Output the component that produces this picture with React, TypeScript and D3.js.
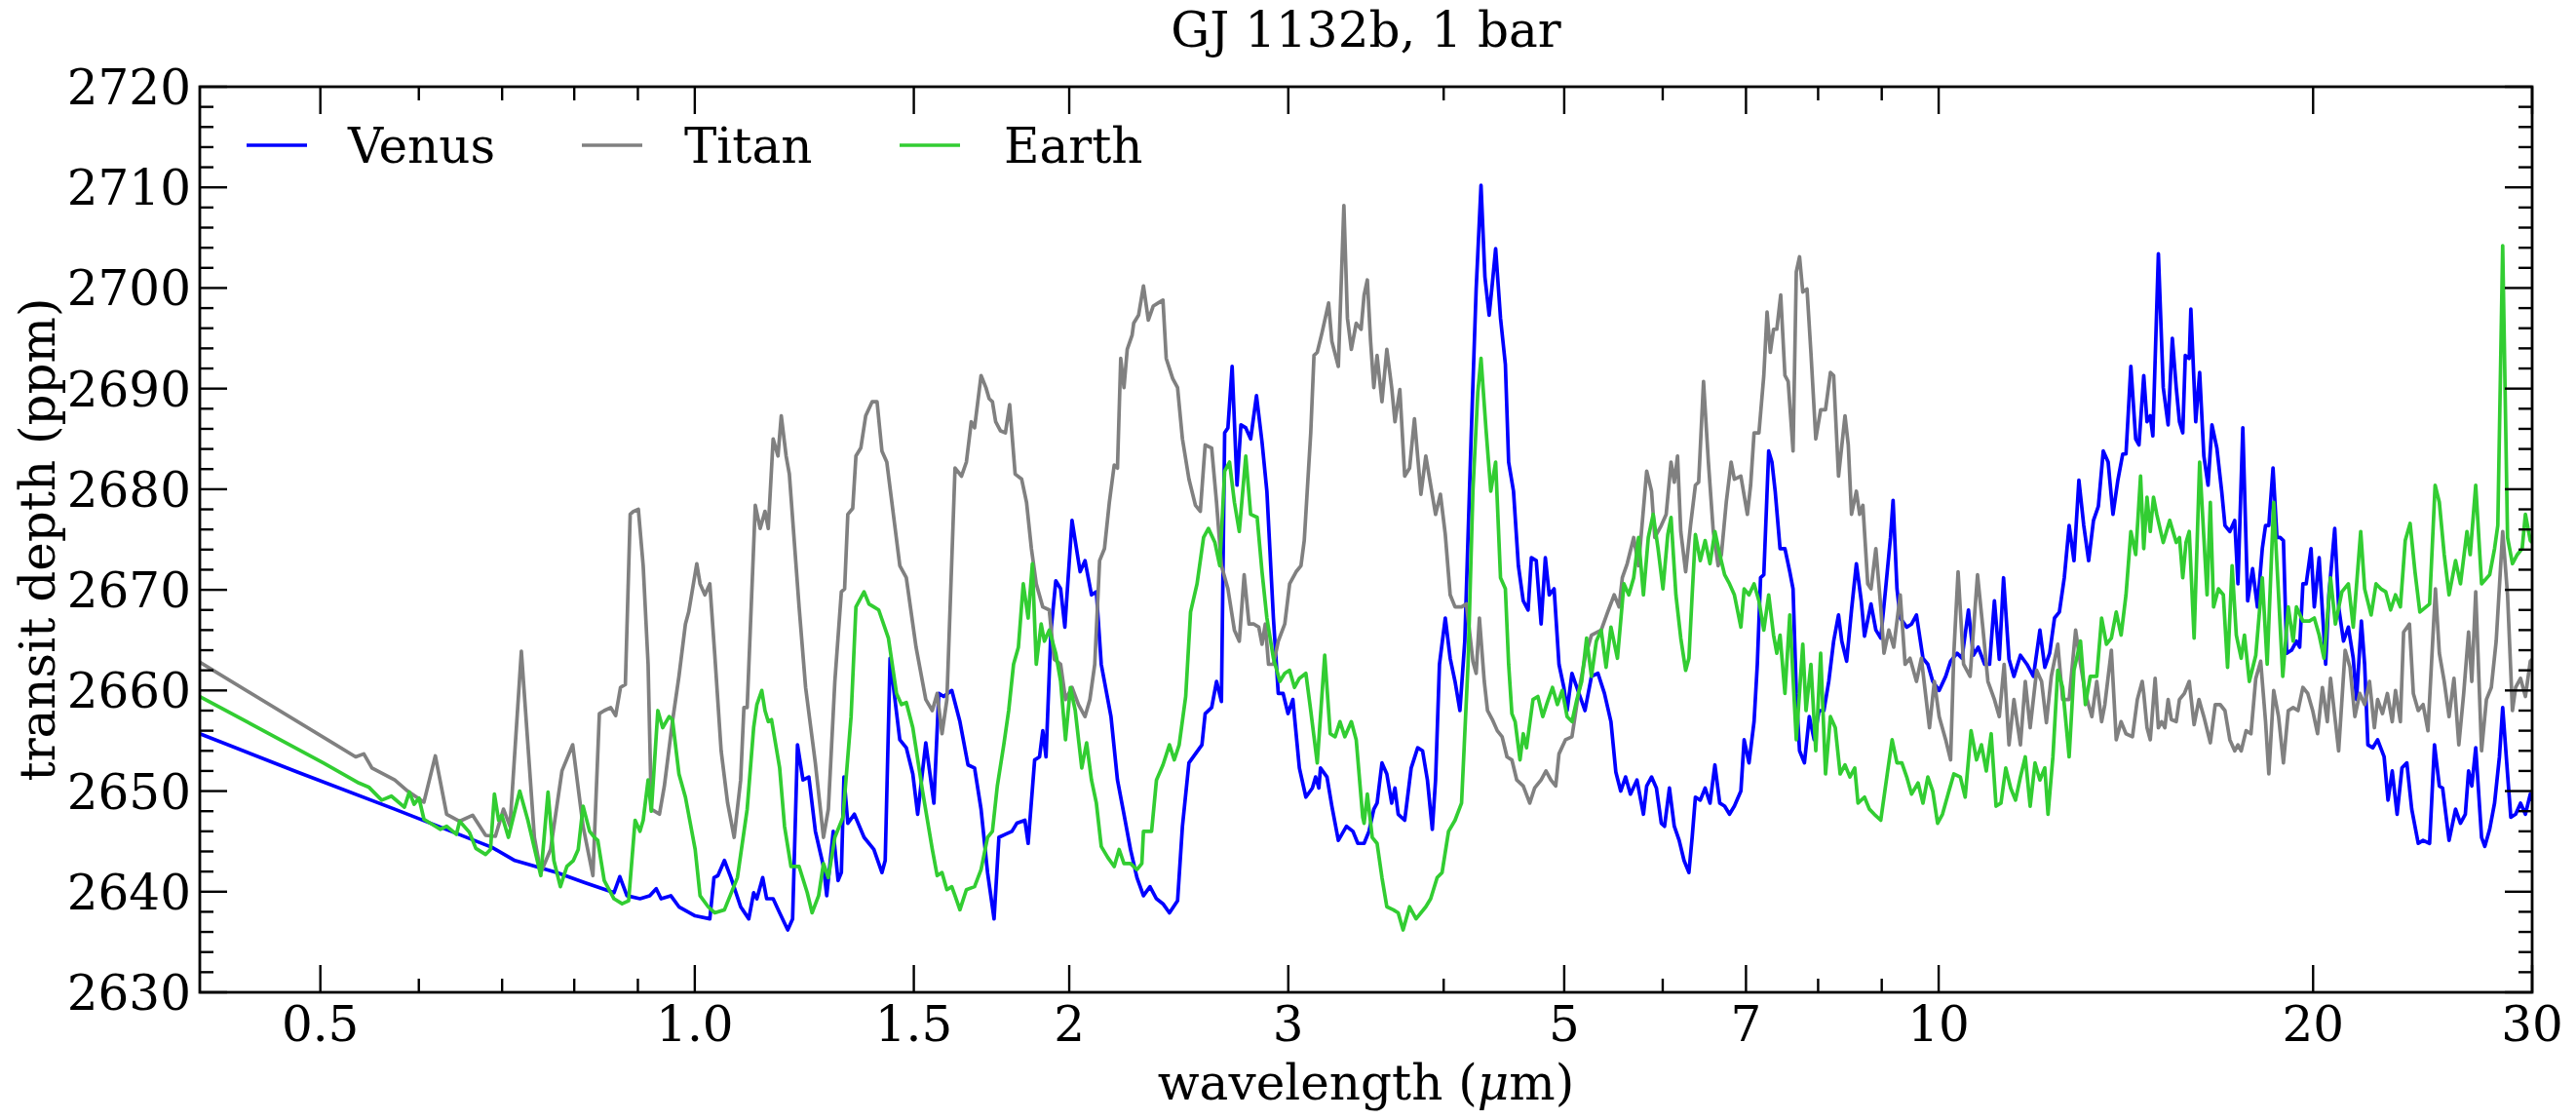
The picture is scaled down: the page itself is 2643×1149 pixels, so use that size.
import React from 'react';
import * as d3 from 'd3';

// ---------- data (wavelength in µm, transit depth in ppm) ----------
const titleText = 'GJ 1132b, 1 bar';
const seriesNames = ['Venus', 'Titan', 'Earth'];
const seriesColors = ['#0000ff', '#808080', '#32cd32'];

const xMajorTicks = [0.5, 1.0, 1.5, 2, 3, 5, 7, 10, 20, 30];
const xTickLabels = ['0.5', '1.0', '1.5', '2', '3', '5', '7', '10', '20', '30'];
const xMinorTicks = [0.6, 0.7, 0.8, 0.9, 4, 6, 8, 9];
const yMajorTicks = [2630, 2640, 2650, 2660, 2670, 2680, 2690, 2700, 2710, 2720];

const venusSpectrum: [number, number][] = [
  [0.4,2655.7],[0.4791,2651.9],[0.5738,2648.2],[0.6872,2644.4],[0.7167,2643.1],[0.775,2641.9],
  [0.8157,2640.9],[0.8611,2639.9],[0.8704,2641.5],[0.882,2639.6],[0.9035,2639.3],[0.9199,2639.6],[0.9311,2640.3],[0.9395,2639.3],[0.9566,2639.6],[0.9711,2638.5],[1.0007,2637.6],[1.0282,2637.3],[1.0362,2641.4],[1.0437,2641.6],[1.0564,2643.1],[1.0692,2641.4],[1.0886,2638.5],[1.1051,2637.3],[1.1151,2639.9],[1.1218,2639.3],[1.134,2641.4],[1.1423,2639.3],[1.1561,2639.3],[1.1701,2637.9],[1.1878,2636.2],[1.1985,2637.3],[1.2094,2654.6],[1.2218,2651.1],[1.2351,2651.4],[1.2501,2646.0],[1.269,2642.5],[1.2767,2639.6],[1.2921,2646.0],[1.3038,2641.1],[1.3117,2641.9],[1.318,2651.4],[1.3275,2646.8],[1.3436,2647.7],[1.368,2645.4],[1.393,2644.2],[1.414,2641.9],[1.4226,2643.1],[1.4355,2663.2],[1.4485,2659.1],[1.4616,2655.1],[1.4793,2654.3],[1.4972,2651.7],[1.5107,2647.7],[1.5336,2654.8],[1.5568,2648.8],[1.5709,2659.7],[1.5852,2659.4],[1.6092,2660.0],[1.6336,2656.9],[1.6583,2652.6],
  [1.6785,2652.3],[1.6988,2648.2],[1.7194,2641.9],[1.7402,2637.3],[1.7559,2645.4],[1.7772,2645.7],[1.7987,2646.0],[1.815,2646.8],[1.8424,2647.1],[1.8535,2644.8],[1.876,2653.1],[1.893,2653.4],[1.9044,2656.0],[1.9159,2653.4],[1.9332,2665.8],[1.9508,2670.9],[1.9684,2670.1],[1.9839,2666.3],[2.0103,2676.9],[2.0407,2671.8],[2.0593,2672.9],[2.0841,2669.5],[2.103,2669.8],[2.1221,2662.6],[2.1607,2657.4],[2.1868,2651.1],[2.2133,2647.7],[2.2401,2644.2],[2.2672,2641.4],[2.2946,2639.6],[2.3224,2640.5],[2.3505,2639.3],[2.3789,2638.8],[2.4077,2637.9],[2.4442,2639.1],[2.4663,2646.5],[2.4961,2652.8],[2.5263,2653.7],[2.5569,2654.6],[2.5723,2657.7],[2.6034,2658.3],[2.627,2660.9],[2.6508,2658.9],[2.6668,2685.6],[2.6829,2686.1],[2.7039,2692.2],[2.7284,2680.4],[2.7482,2686.4],[2.7731,2686.1],[2.7982,2685.0],[2.8286,2689.3],[2.8577,2684.7],[2.8836,2679.8],[2.9186,2667.2],[2.9449,2659.7],[2.9716,2659.7],[2.9985,2657.7],[3.0257,2659.1],[3.0623,2652.3],[3.0994,2649.4],[3.1369,2650.3],[3.1558,2651.4],[3.1748,2650.3],[3.1843,2652.3],[3.2229,2651.4],[3.2521,2648.5],[3.2914,2645.1],[3.3413,2646.5],[3.3817,2646.0],[3.4124,2644.8],
  [3.4521,2644.8],[3.4834,2646.0],[3.5149,2648.2],[3.5361,2648.8],[3.5682,2652.8],[3.6005,2651.7],[3.6331,2648.8],[3.6551,2650.3],[3.6771,2647.7],[3.7216,2647.1],[3.7666,2652.3],[3.8121,2654.3],[3.8467,2654.0],[3.8815,2651.1],[3.9167,2646.2],[3.9404,2651.1],[3.9689,2662.6],[4.012,2667.2],[4.0484,2663.2],[4.085,2660.9],[4.1221,2658.0],[4.1594,2664.9],[4.2097,2685.6],[4.2479,2699.9],[4.2863,2710.2],[4.3174,2701.1],[4.3513,2697.3],[4.3775,2700.5],[4.4039,2703.9],[4.4438,2697.0],[4.484,2692.4],[4.5111,2682.7],[4.552,2679.8],[4.5932,2672.4],[4.6348,2668.9],[4.6768,2668.0],[4.705,2673.2],[4.7476,2672.9],[4.7907,2666.6],[4.8283,2673.2],[4.8633,2669.5],[4.9073,2670.1],[4.9518,2662.6],[4.9966,2660.3],[5.0268,2658.0],[5.0723,2661.7],[5.1183,2660.3],[5.1958,2658.0],[5.2586,2661.4],[5.3223,2661.7],[5.3866,2659.7],[5.4518,2656.9],[5.5012,2651.9],[5.5511,2650.0],[5.6013,2651.4],[5.6521,2649.7],[5.7205,2651.1],[5.7897,2647.7],[5.8246,2650.5],[5.8773,2651.4],[5.9306,2650.3],[5.9843,2646.8],[6.0204,2646.5],[6.075,2650.3],[6.13,2646.5],[6.1856,2645.1],[6.2416,2643.1],[6.2982,2641.9],[6.3361,2645.4],[6.3744,2649.4],[6.4321,2649.1],[6.4904,2650.3],[6.5491,2648.8],[6.6085,2652.6],[6.6684,2648.8],[6.7287,2648.5],[6.7897,2647.7],[6.8513,2648.5],[6.9342,2650.0],[6.976,2655.1],[7.0392,2652.8],
  [7.1056,2656.9],[7.1484,2662.6],[7.1916,2671.2],[7.2349,2671.5],[7.3005,2683.8],[7.3445,2682.7],[7.3888,2679.8],[7.4557,2674.1],[7.5234,2674.1],[7.5914,2671.8],[7.6373,2670.1],[7.6833,2659.7],[7.7297,2654.0],[7.7997,2652.8],[7.8703,2657.4],[7.9416,2655.1],[8.0136,2658.0],[8.0862,2658.0],[8.1594,2660.9],[8.2334,2664.9],[8.308,2667.5],[8.3581,2664.9],[8.4338,2662.9],[8.5102,2668.0],[8.5873,2672.6],[8.6651,2668.9],[8.7173,2665.4],[8.8228,2668.6],[8.9027,2666.0],[8.9835,2665.2],[9.0647,2670.1],[9.1469,2675.2],[9.191,2678.9],[9.2575,2670.1],[9.3134,2667.2],[9.4261,2666.3],[9.5114,2666.6],[9.5976,2667.5],[9.7138,2663.2],[9.8018,2662.6],[9.8906,2660.9],[10.01,2660.0],[10.131,2661.4],[10.223,2662.9],[10.347,2663.7],[10.441,2663.2],[10.567,2668.0],[10.663,2663.5],[10.759,2664.3],[10.889,2662.6],[10.988,2662.6],[11.087,2668.9],[11.188,2663.1],[11.276,2671.2],[11.391,2663.1],[11.495,2661.4],[11.634,2663.5],[11.775,2662.6],[11.917,2661.4],[12.061,2666.0],[12.171,2662.3],[12.281,2663.7],[12.392,2667.2],[12.504,2667.8],[12.618,2671.2],[12.732,2676.4],[12.847,2672.9],[12.964,2680.9],[13.081,2676.4],[13.2,2672.9],[13.319,2676.9],[13.44,2678.3],[13.562,2683.8],[13.685,2682.7],[13.808,2677.5],[13.934,2680.9],[14.06,2683.5],[14.145,2683.5],[14.273,2692.2],[14.402,2685.0],[14.489,2684.4],
  [14.618,2691.3],[14.706,2686.7],[14.795,2687.3],[14.866,2685.3],[15.019,2703.4],[15.155,2690.1],[15.292,2686.4],[15.412,2695.0],[15.524,2690.1],[15.617,2686.7],[15.712,2685.6],[15.787,2693.3],[15.902,2693.0],[15.95,2697.9],[16.094,2686.7],[16.211,2691.6],[16.338,2683.3],[16.466,2680.4],[16.585,2686.4],[16.736,2684.1],[16.887,2679.8],[16.989,2676.4],[17.143,2675.8],[17.298,2676.9],[17.403,2670.6],[17.56,2686.1],[17.719,2668.9],[17.88,2672.1],[18.042,2668.3],[18.205,2674.1],[18.315,2676.4],[18.426,2676.4],[18.57,2682.1],[18.705,2675.2],[18.817,2675.2],[18.931,2674.9],[19.045,2663.7],[19.218,2664.0],[19.392,2664.9],[19.509,2664.3],[19.626,2670.6],[19.745,2670.6],[19.923,2674.1],[20.044,2668.3],[20.225,2673.2],[20.47,2662.6],[20.593,2669.5],[20.817,2676.1],[20.968,2668.3],[21.158,2664.9],[21.349,2666.3],[21.543,2663.2],[21.673,2659.1],[21.87,2666.9],[22.002,2662.6],[22.135,2654.6],[22.335,2654.3],[22.537,2655.1],[22.81,2653.4],[22.975,2649.1],[23.155,2652.0],[23.365,2647.7],[23.577,2652.3],[23.79,2652.8],[24.006,2648.2],[24.297,2644.8],[24.516,2645.1],[24.813,2644.8],[25.038,2654.6],[25.265,2650.5],[25.418,2650.3],[25.724,2645.1],[26.035,2648.2],[26.272,2646.8],[26.51,2647.7],[26.67,2652.0],[26.83,2650.5],[27.025,2654.3],[27.319,2645.4],[27.484,2644.5],[27.732,2646.2],[27.984,2648.8],[28.237,2653.4],[28.408,2658.3],[28.665,2651.7],[28.838,2647.4],[29.099,2647.7],[29.363,2648.8],[29.629,2647.7],[29.898,2649.7],[30.077,2648.8],
];

const titanSpectrum: [number, number][] = [
  [0.4,2662.8],[0.5338,2653.4],[0.5419,2653.7],[0.5501,2652.3],[0.5738,2651.1],[0.5877,2650.0],[0.6057,2648.9],[0.6186,2653.5],[0.6317,2647.7],[0.6471,2647.0],[0.6628,2647.6],[0.679,2645.6],[0.6913,2645.5],[0.7018,2648.2],[0.7103,2646.5],[0.7254,2663.9],[0.7431,2645.4],[0.752,2641.9],[0.7657,2644.2],[0.782,2652.0],[0.7977,2654.6],[0.8132,2646.5],
  [0.8281,2641.6],[0.8381,2657.7],[0.8457,2658.0],[0.8559,2658.3],[0.8637,2657.5],[0.8715,2660.3],[0.8794,2660.6],[0.8873,2677.5],[0.8927,2677.8],[0.9008,2678.0],[0.9089,2672.4],[0.9172,2662.6],[0.9227,2648.2],[0.9367,2647.7],[0.9452,2650.5],[0.9595,2656.9],[0.9711,2661.4],[0.9828,2666.6],[0.9888,2667.8],[1.0037,2672.6],[1.0098,2670.6],[1.0189,2669.5],[1.0282,2670.6],[1.0375,2663.7],[1.05,2654.0],[1.0627,2648.8],[1.0756,2645.4],[1.0886,2651.1],[1.0952,2658.3],[1.1018,2658.3],[1.1185,2678.4],[1.1286,2676.1],[1.1388,2677.8],[1.1457,2676.1],[1.1561,2685.0],[1.1665,2683.3],[1.1736,2687.3],[1.1842,2683.3],[1.1913,2681.5],[1.213,2668.3],[1.2277,2660.3],[1.25,2652.8],[1.269,2645.4],[1.2805,2648.2],[1.296,2660.9],[1.3117,2669.8],[1.3196,2670.1],[1.3275,2677.5],[1.3396,2678.1],[1.3476,2683.3],[1.3598,2684.1],[1.3722,2687.3],[1.3888,2688.7],[1.4013,2688.7],[1.414,2683.8],[1.4268,2682.7],[1.4616,2672.4],[1.4793,2671.2],[1.5062,2664.3],[1.5336,2659.1],[1.5522,2658.0],[1.5662,2659.7],[1.5804,2655.7],[1.5947,2659.1],[1.6189,2682.1],[1.6385,2681.3],[1.6533,2682.7],[1.6683,2686.7],
  [1.6785,2686.1],[1.6988,2691.3],[1.7142,2690.1],[1.7245,2689.0],[1.7349,2688.7],[1.7454,2686.7],[1.7612,2685.8],[1.7772,2685.6],[1.7911,2688.4],[1.8095,2681.5],[1.8314,2681.0],[1.848,2678.7],[1.8647,2674.1],[1.8816,2670.6],[1.9044,2668.3],[1.9274,2668.0],[1.9449,2663.1],[1.9684,2662.6],[1.9863,2659.1],[2.0103,2660.3],[2.0346,2658.6],[2.0592,2657.4],[2.0779,2659.1],[2.0967,2662.6],[2.1157,2672.9],[2.1349,2674.1],[2.1542,2678.7],[2.1737,2682.4],[2.1868,2682.1],[2.2,2693.0],[2.2133,2690.1],[2.2267,2693.9],[2.2468,2695.3],[2.2536,2696.5],[2.274,2697.3],[2.2946,2700.2],[2.3154,2696.8],[2.3364,2698.2],[2.3575,2698.5],[2.3789,2698.8],[2.3933,2693.0],[2.4222,2691.0],[2.4441,2690.1],[2.4663,2685.0],[2.4961,2681.0],[2.5263,2678.4],[2.5492,2677.8],[2.5723,2684.4],[2.6034,2684.1],[2.627,2678.7],[2.6508,2672.4],[2.6829,2670.1],[2.7153,2666.0],[2.7399,2664.9],[2.7648,2671.5],[2.7898,2666.6],[2.8151,2666.6],[2.8406,2666.3],[2.8577,2664.6],[2.8749,2666.6],[2.8923,2662.6],[2.9186,2662.6],[2.9449,2664.9],[2.9806,2666.6],[3.0076,2670.6],[3.044,2671.8],[3.0715,2672.4],[3.0901,2674.9],[3.1274,2685.6],[3.1463,2693.3],[3.1653,2693.6],[3.194,2695.6],[3.2326,2698.5],[3.2521,2694.7],[3.2914,2692.2],[3.3253,2708.2],[3.3473,2697.0],[3.3716,2693.9],[3.4021,2696.5],[3.433,2695.9],
  [3.4521,2699.3],[3.4729,2700.8],[3.4939,2694.7],[3.5149,2690.1],[3.5361,2693.3],[3.5682,2688.7],[3.6005,2693.9],[3.6331,2690.1],[3.6551,2686.7],[3.6882,2689.9],[3.7216,2681.3],[3.7553,2682.1],[3.7893,2687.0],[3.8351,2679.5],[3.8699,2683.3],[3.9049,2680.4],[3.9404,2677.5],[3.976,2679.5],[4.012,2675.5],[4.0484,2669.5],[4.085,2668.3],[4.1345,2668.3],[4.1719,2668.6],[4.2224,2662.9],[4.2479,2661.7],[4.2735,2667.2],[4.3122,2660.9],[4.3382,2658.0],[4.3775,2657.1],[4.4172,2656.0],[4.4571,2655.4],[4.4976,2653.4],[4.5383,2653.1],[4.5795,2651.1],[4.6348,2650.5],[4.6909,2648.8],[4.7334,2650.3],[4.7907,2651.1],[4.8341,2652.0],[4.8779,2651.1],[4.9221,2650.5],[4.9518,2653.7],[5.0117,2655.1],[5.0723,2655.4],[5.1337,2659.7],[5.1958,2663.2],[5.2586,2665.5],[5.3544,2666.0],[5.4191,2667.8],[5.4847,2669.5],[5.5343,2668.3],[5.5678,2671.2],[5.6182,2672.6],[5.6862,2675.2],[5.7377,2672.4],[5.8246,2681.8],[5.8773,2679.8],[5.9128,2675.2],[5.9843,2676.4],[6.0385,2677.5],[6.0933,2682.7],[6.13,2680.7],[6.167,2683.3],[6.2041,2675.8],[6.2604,2671.8],[6.3171,2676.4],[6.3744,2680.4],[6.4128,2680.7],[6.4709,2690.7],[6.5295,2682.7],[6.5887,2675.8],[6.6484,2672.4],[6.6884,2673.5],[6.749,2678.7],[6.8102,2682.7],[6.8513,2681.0],[6.9342,2681.3],[7.0181,2677.5],[7.0605,2680.4],
  [7.1056,2685.6],[7.17,2685.6],[7.2349,2691.3],[7.2786,2697.6],[7.3225,2693.6],[7.3666,2695.9],[7.4111,2695.9],[7.4647,2699.3],[7.5234,2691.3],[7.5687,2690.7],[7.6373,2683.8],[7.6833,2701.6],[7.7297,2703.1],[7.7763,2699.6],[7.8373,2699.9],[7.894,2693.6],[7.9656,2685.0],[8.0376,2687.9],[8.1105,2687.9],[8.184,2691.6],[8.2334,2691.3],[8.308,2681.3],[8.4084,2687.3],[8.4593,2684.4],[8.5102,2677.5],[8.5873,2679.8],[8.6391,2677.5],[8.6912,2678.4],[8.7699,2670.6],[8.8228,2670.1],[8.9027,2674.1],[8.9835,2668.3],[9.0376,2663.7],[9.1194,2666.0],[9.2021,2664.3],[9.3134,2669.5],[9.3977,2662.6],[9.4829,2663.2],[9.5976,2660.9],[9.6845,2663.2],[9.8314,2656.3],[9.9204,2660.9],[10.01,2657.4],[10.131,2655.1],[10.223,2653.1],[10.285,2663.7],[10.366,2671.8],[10.472,2662.6],[10.599,2661.4],[10.746,2671.5],[10.857,2666.0],[10.955,2660.9],[11.087,2659.1],[11.188,2657.4],[11.289,2662.6],[11.391,2654.6],[11.495,2659.1],[11.634,2654.6],[11.739,2660.9],[11.846,2656.3],[11.989,2662.0],[12.098,2660.9],[12.207,2656.8],[12.318,2661.4],[12.467,2664.6],[12.58,2659.1],[12.732,2659.1],[12.886,2666.0],[13.003,2662.6],[13.121,2659.7],[13.279,2657.4],[13.4,2660.9],[13.521,2656.9],[13.602,2658.6],[13.767,2664.0],[13.892,2655.1],[14.018,2656.9],[14.145,2655.7],[14.316,2655.4],[14.445,2659.1],[14.576,2660.9],
  [14.618,2659.7],[14.706,2656.3],[14.795,2655.1],[14.929,2661.2],[15.019,2656.3],[15.11,2656.9],[15.201,2656.3],[15.292,2659.1],[15.384,2657.1],[15.524,2656.9],[15.617,2659.1],[15.759,2659.7],[15.902,2660.9],[16.046,2656.6],[16.191,2659.1],[16.338,2657.4],[16.535,2654.8],[16.686,2658.6],[16.837,2658.6],[16.989,2658.0],[17.143,2655.1],[17.298,2654.0],[17.403,2654.6],[17.508,2654.0],[17.666,2656.0],[17.826,2655.7],[17.987,2661.2],[18.15,2662.9],[18.315,2656.9],[18.426,2651.7],[18.593,2660.0],[18.761,2657.4],[18.931,2652.8],[19.102,2658.0],[19.275,2658.3],[19.45,2658.0],[19.626,2660.3],[19.804,2659.7],[19.984,2658.0],[20.165,2655.7],[20.347,2660.3],[20.532,2656.9],[20.656,2661.2],[20.843,2656.9],[20.968,2654.0],[21.222,2664.0],[21.414,2662.3],[21.608,2657.4],[21.804,2659.7],[22.002,2658.6],[22.201,2660.9],[22.402,2656.3],[22.537,2659.1],[22.741,2657.7],[22.947,2659.7],[23.155,2656.9],[23.295,2660.0],[23.506,2656.9],[23.648,2665.8],[23.905,2666.6],[24.078,2659.7],[24.297,2658.0],[24.516,2658.6],[24.738,2656.0],[25.083,2670.1],[25.265,2663.7],[25.494,2660.9],[25.724,2657.4],[25.958,2661.2],[26.193,2654.6],[26.43,2659.7],[26.67,2665.8],[26.83,2660.9],[27.025,2669.8],[27.319,2654.0],[27.566,2659.1],[27.816,2660.3],[28.068,2664.9],[28.408,2675.8],[28.665,2669.5],[28.925,2658.0],[29.099,2660.3],[29.363,2661.2],[29.629,2659.4],[29.898,2662.9],[30.077,2663.2],
];

const earthSpectrum: [number, number][] = [
  [0.4,2659.4],[0.5027,2652.8],[0.537,2650.8],[0.5468,2650.4],[0.5601,2649.1],[0.5703,2649.5],[0.5842,2648.4],[0.5895,2649.9],[0.5948,2648.7],[0.6002,2649.3],[0.6057,2647.2],[0.6242,2646.2],[0.6317,2646.5],[0.6432,2645.7],[0.6471,2647.0],[0.6589,2645.9],[0.6668,2644.3],[0.679,2643.7],[0.6851,2644.2],[0.6901,2649.7],[0.6955,2647.1],[0.6997,2647.6],[0.7082,2645.4],[0.7232,2650.0],[0.7342,2647.1],[0.752,2641.6],[0.7621,2649.9],[0.7704,2643.1],[0.7797,2640.5],[0.7891,2642.5],[0.7987,2643.1],[0.8059,2644.2],[0.8132,2648.5],
  [0.8231,2646.0],[0.8305,2645.4],[0.8356,2645.1],[0.8457,2641.1],[0.8611,2639.3],[0.8741,2638.8],[0.8847,2639.1],[0.8954,2647.1],[0.9035,2646.0],[0.9089,2647.1],[0.9172,2651.1],[0.9227,2648.0],[0.9339,2658.0],[0.9423,2656.3],[0.9537,2657.4],[0.9595,2657.1],[0.9711,2651.7],[0.9828,2649.4],[1.0007,2644.2],[1.0098,2639.6],[1.0251,2638.5],[1.0375,2637.9],[1.0564,2638.2],[1.0821,2641.4],[1.1018,2648.2],[1.1151,2656.3],[1.1218,2658.6],[1.132,2660.0],[1.1388,2658.0],[1.1457,2656.9],[1.1526,2657.1],[1.1701,2652.3],[1.1807,2646.5],[1.1949,2642.5],[1.213,2642.5],[1.2314,2639.9],[1.2426,2637.9],[1.2576,2639.6],[1.269,2642.8],[1.2805,2641.4],[1.296,2645.4],[1.3156,2647.4],[1.3355,2657.4],[1.3476,2668.3],[1.3558,2668.9],[1.368,2669.8],[1.3804,2668.6],[1.3929,2668.3],[1.4056,2668.0],[1.4311,2665.2],[1.4528,2659.7],[1.466,2658.6],[1.4793,2658.8],[1.4972,2656.3],[1.5244,2650.0],[1.5522,2644.2],[1.5662,2641.6],[1.5804,2641.9],[1.5947,2640.2],[1.6092,2640.5],[1.6189,2639.6],[1.6336,2638.2],[1.6533,2640.2],
  [1.6785,2640.5],[1.6988,2642.2],[1.7194,2645.4],[1.7349,2646.0],[1.7507,2650.5],[1.7718,2654.6],[1.7879,2658.0],[1.8041,2662.6],[1.8204,2664.3],[1.8369,2670.6],[1.8535,2667.2],[1.8681,2672.6],[1.8816,2662.6],[1.8987,2666.6],[1.9101,2664.9],[1.9274,2666.0],[1.9508,2663.7],[1.9684,2660.9],[1.9863,2655.1],[2.0042,2660.3],[2.0224,2658.0],[2.0469,2652.3],[2.0654,2654.8],[2.0841,2651.1],[2.103,2648.8],[2.1221,2644.5],[2.1478,2643.4],[2.1737,2642.5],[2.1934,2644.2],[2.2133,2642.8],[2.2401,2642.8],[2.2672,2642.2],[2.2877,2642.8],[2.2946,2646.0],[2.3294,2646.0],[2.3505,2651.1],[2.3789,2652.6],[2.4077,2654.6],[2.4295,2653.1],[2.4514,2654.6],[2.4812,2659.4],[2.5036,2667.8],[2.5339,2670.6],[2.5646,2675.2],[2.5878,2676.1],[2.6191,2674.7],[2.6428,2672.4],[2.6668,2681.8],[2.6909,2682.7],[2.7153,2678.7],[2.7399,2675.8],[2.7731,2683.3],[2.7982,2677.5],[2.8321,2677.2],[2.8577,2671.8],[2.8836,2667.2],[2.9186,2663.2],[2.9538,2660.9],[2.9806,2661.7],[3.0076,2662.0],[3.0348,2660.3],[3.0623,2661.2],[3.0994,2661.7],[3.1274,2658.0],[3.1653,2652.8],[3.2094,2663.5],[3.2423,2655.7],[3.2717,2655.4],[3.3013,2656.9],[3.3313,2655.4],[3.3716,2656.9],[3.4021,2655.1],[3.4433,2647.4],
  [3.4521,2646.8],[3.4729,2649.7],[3.5044,2645.4],[3.5361,2644.8],[3.5682,2641.4],[3.6005,2638.5],[3.6441,2638.2],[3.6771,2637.9],[3.7104,2636.2],[3.7553,2638.5],[3.8007,2637.3],[3.8699,2638.5],[3.9049,2639.3],[3.9522,2641.4],[3.988,2641.9],[4.0363,2646.0],[4.085,2647.1],[4.1345,2648.8],[4.1845,2662.6],[4.2224,2679.8],[4.2607,2689.6],[4.2863,2693.0],[4.3252,2686.1],[4.3644,2679.8],[4.4039,2682.7],[4.4438,2671.2],[4.484,2670.1],[4.5111,2662.6],[4.5383,2657.7],[4.5657,2656.9],[4.6071,2653.1],[4.6348,2655.7],[4.6628,2654.3],[4.7192,2659.1],[4.762,2659.4],[4.8051,2657.4],[4.8487,2658.9],[4.8926,2660.3],[4.9369,2658.6],[4.9816,2660.0],[5.0268,2657.4],[5.0723,2656.9],[5.1183,2659.1],[5.1647,2660.9],[5.2114,2665.2],[5.2586,2661.4],[5.3063,2664.9],[5.3544,2666.0],[5.4029,2662.3],[5.4518,2666.3],[5.5177,2663.2],[5.5845,2670.6],[5.6351,2669.5],[5.6862,2671.2],[5.7377,2675.2],[5.7897,2669.5],[5.8421,2675.2],[5.8951,2677.5],[5.9485,2674.1],[6.0026,2670.1],[6.0567,2675.5],[6.0933,2677.2],[6.1485,2669.5],[6.2041,2665.2],[6.2604,2662.0],[6.2982,2663.2],[6.3361,2669.5],[6.3744,2675.5],[6.4321,2672.9],[6.4904,2674.9],[6.5491,2672.6],[6.6085,2675.8],[6.6684,2673.5],[6.7287,2671.5],[6.7897,2670.6],[6.8513,2669.5],[6.9342,2666.3],[6.976,2670.1],[7.0392,2669.5],
  [7.1056,2670.6],[7.17,2668.9],[7.2349,2666.0],[7.3005,2669.5],[7.3666,2665.5],[7.4111,2663.7],[7.4557,2665.5],[7.5234,2659.7],[7.5914,2667.5],[7.6833,2655.1],[7.7763,2664.6],[7.8231,2658.0],[7.894,2662.6],[7.9656,2654.0],[8.0376,2663.7],[8.1105,2651.7],[8.184,2657.4],[8.2582,2656.3],[8.333,2651.7],[8.4084,2652.6],[8.4846,2651.4],[8.5614,2652.3],[8.6131,2648.8],[8.7173,2649.4],[8.7962,2648.2],[8.8759,2647.7],[8.9835,2647.1],[9.0921,2651.7],[9.1743,2655.1],[9.2575,2652.8],[9.3415,2652.8],[9.4261,2651.4],[9.5114,2649.7],[9.6265,2650.8],[9.7138,2648.8],[9.8018,2651.4],[9.8906,2650.0],[9.9801,2646.8],[10.071,2647.7],[10.192,2650.0],[10.285,2651.7],[10.409,2651.4],[10.503,2649.4],[10.618,2656.0],[10.727,2653.1],[10.824,2654.6],[10.922,2652.0],[11.021,2655.7],[11.121,2648.5],[11.222,2648.8],[11.323,2652.3],[11.426,2650.3],[11.529,2649.1],[11.634,2651.4],[11.739,2653.4],[11.846,2648.5],[11.953,2652.8],[12.061,2651.1],[12.171,2652.3],[12.244,2647.7],[12.355,2653.4],[12.467,2662.0],[12.58,2660.3],[12.732,2653.4],[12.847,2662.0],[13.003,2664.9],[13.121,2658.6],[13.239,2661.4],[13.4,2661.4],[13.521,2667.2],[13.643,2664.6],[13.767,2665.2],[13.892,2667.8],[14.018,2665.5],[14.145,2669.5],[14.273,2675.8],[14.402,2673.5],[14.532,2681.3],
  [14.618,2674.1],[14.706,2679.2],[14.795,2675.8],[14.884,2679.2],[14.974,2677.5],[15.155,2674.7],[15.338,2676.9],[15.524,2674.7],[15.617,2675.2],[15.712,2671.2],[15.807,2674.7],[15.902,2675.8],[16.046,2665.2],[16.211,2682.7],[16.338,2675.2],[16.436,2669.5],[16.535,2678.7],[16.635,2668.3],[16.786,2670.1],[16.938,2669.5],[17.071,2662.3],[17.215,2672.4],[17.35,2665.5],[17.508,2663.2],[17.613,2665.5],[17.773,2660.9],[17.987,2663.5],[18.205,2671.2],[18.37,2662.6],[18.593,2678.7],[18.761,2669.5],[18.908,2661.4],[19.102,2668.3],[19.275,2664.9],[19.392,2668.3],[19.626,2666.9],[19.864,2666.9],[20.044,2667.2],[20.225,2665.5],[20.409,2663.2],[20.656,2671.2],[20.843,2666.6],[21.095,2669.8],[21.349,2670.6],[21.543,2666.3],[21.843,2675.8],[22.002,2670.1],[22.268,2667.5],[22.47,2670.6],[22.673,2670.1],[22.879,2669.8],[23.086,2668.0],[23.295,2669.5],[23.506,2668.3],[23.719,2674.9],[23.934,2676.6],[24.151,2671.8],[24.369,2667.8],[24.813,2668.6],[25.068,2680.4],[25.265,2678.7],[25.494,2673.5],[25.724,2669.5],[26.035,2672.9],[26.272,2670.6],[26.59,2675.8],[26.75,2673.5],[27.025,2680.4],[27.319,2670.6],[27.732,2671.5],[27.984,2674.1],[28.153,2676.4],[28.408,2704.2],[28.665,2675.2],[28.925,2672.6],[29.187,2673.5],[29.451,2674.1],[29.629,2677.5],[29.898,2674.9],[30.077,2674.6],
];

const spectra = [venusSpectrum, titanSpectrum, earthSpectrum];

// ---------- layout ----------
const W = 2643;
const H = 1149;
const plot = { left: 205, right: 2598, top: 89, bottom: 1018 };
const FONT = '"DejaVu Serif", "Liberation Serif", serif';
const FS = 50;

export default function App() {
  const x = d3.scaleLog().domain([0.4, 30]).range([plot.left, plot.right]);
  const y = d3.scaleLinear().domain([2630, 2720]).range([plot.bottom, plot.top]);
  const line = d3
    .line<[number, number]>()
    .x((d) => x(d[0]))
    .y((d) => y(d[1]));
  const yMinor = d3.range(2630, 2721, 2).filter((v) => v % 10 !== 0);
  const MAJ = 28;
  const MIN = 14;
  const tickW = 2.4;

  const legendX = [253, 597, 923];
  const legendTextX = [357, 702, 1030];
  const legendY = 149;

  return (
    <div style={{ position: 'absolute', left: 0, top: 0 }}>
      <style>{`body{margin:0;}`}</style>
      <svg width={W} height={H} viewBox={`0 0 ${W} ${H}`} style={{ display: 'block', background: '#fff' }}>
        <defs>
          <clipPath id="plotClip">
            <rect x={plot.left} y={plot.top} width={plot.right - plot.left} height={plot.bottom - plot.top} />
          </clipPath>
        </defs>
        <rect x={0} y={0} width={W} height={H} fill="#fff" />

        <g clipPath="url(#plotClip)">
          {spectra.map((s, i) => (
            <path
              key={seriesNames[i]}
              d={line(s) || ''}
              fill="none"
              stroke={seriesColors[i]}
              strokeWidth={3.7}
              strokeLinejoin="round"
              strokeLinecap="round"
            />
          ))}
        </g>

        {/* ticks */}
        <g stroke="#000" strokeWidth={tickW}>
          {xMajorTicks.map((t) => (
            <g key={'xM' + t}>
              <line x1={x(t)} x2={x(t)} y1={plot.bottom} y2={plot.bottom - MAJ} />
              <line x1={x(t)} x2={x(t)} y1={plot.top} y2={plot.top + MAJ} />
            </g>
          ))}
          {xMinorTicks.map((t) => (
            <g key={'xm' + t}>
              <line x1={x(t)} x2={x(t)} y1={plot.bottom} y2={plot.bottom - MIN} />
              <line x1={x(t)} x2={x(t)} y1={plot.top} y2={plot.top + MIN} />
            </g>
          ))}
          {yMajorTicks.map((t) => (
            <g key={'yM' + t}>
              <line x1={plot.left} x2={plot.left + MAJ} y1={y(t)} y2={y(t)} />
              <line x1={plot.right} x2={plot.right - MAJ} y1={y(t)} y2={y(t)} />
            </g>
          ))}
          {yMinor.map((t) => (
            <g key={'ym' + t}>
              <line x1={plot.left} x2={plot.left + MIN} y1={y(t)} y2={y(t)} />
              <line x1={plot.right} x2={plot.right - MIN} y1={y(t)} y2={y(t)} />
            </g>
          ))}
        </g>

        {/* frame */}
        <rect
          x={plot.left}
          y={plot.top}
          width={plot.right - plot.left}
          height={plot.bottom - plot.top}
          fill="none"
          stroke="#000"
          strokeWidth={2.8}
        />

        {/* tick labels, axis labels, title */}
        <g fontFamily={FONT} fontSize={FS} fill="#000">
          {xMajorTicks.map((t, i) => (
            <text key={'xl' + t} x={x(t)} y={1068} textAnchor="middle">
              {xTickLabels[i]}
            </text>
          ))}
          {yMajorTicks.map((t) => (
            <text key={'yl' + t} x={plot.left - 9} y={y(t) + 18} textAnchor="end">
              {String(t)}
            </text>
          ))}
          <text x={(plot.left + plot.right) / 2} y={1128} textAnchor="middle">
            wavelength (<tspan fontStyle="italic">μ</tspan>m)
          </text>
          <text transform={`translate(56, ${(plot.top + plot.bottom) / 2}) rotate(-90)`} textAnchor="middle">
            transit depth (ppm)
          </text>
          <text x={(plot.left + plot.right) / 2} y={48} textAnchor="middle">
            {titleText}
          </text>
        </g>

        {/* legend */}
        <g fontFamily={FONT} fontSize={FS}>
          {seriesNames.map((n, i) => (
            <g key={'lg' + n}>
              <line
                x1={legendX[i]}
                x2={legendX[i] + 62}
                y1={legendY}
                y2={legendY}
                stroke={seriesColors[i]}
                strokeWidth={3.7}
              />
              <text x={legendTextX[i]} y={legendY + 18} fill="#000">
                {n}
              </text>
            </g>
          ))}
        </g>
      </svg>
    </div>
  );
}
